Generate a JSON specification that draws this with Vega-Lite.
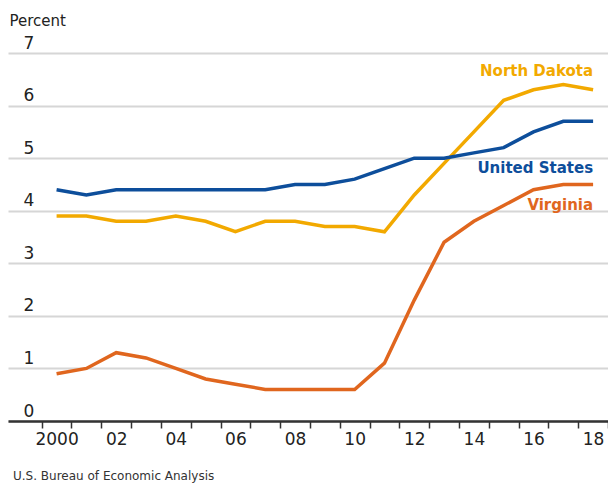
{
  "$schema": "https://vega.github.io/schema/vega-lite/v6.json",
  "width": 600,
  "height": 368,
  "autosize": "none",
  "padding": {"left": 8, "top": 53, "right": 0, "bottom": 62},
  "config": {"view": {"stroke": null}, "font": "DejaVu Sans"},
  "data": {
    "values": [
      {"series": "North Dakota", "year": 2000, "value": 3.9},
      {"series": "North Dakota", "year": 2001, "value": 3.9},
      {"series": "North Dakota", "year": 2002, "value": 3.8},
      {"series": "North Dakota", "year": 2003, "value": 3.8},
      {"series": "North Dakota", "year": 2004, "value": 3.9},
      {"series": "North Dakota", "year": 2005, "value": 3.8},
      {"series": "North Dakota", "year": 2006, "value": 3.6},
      {"series": "North Dakota", "year": 2007, "value": 3.8},
      {"series": "North Dakota", "year": 2008, "value": 3.8},
      {"series": "North Dakota", "year": 2009, "value": 3.7},
      {"series": "North Dakota", "year": 2010, "value": 3.7},
      {"series": "North Dakota", "year": 2011, "value": 3.6},
      {"series": "North Dakota", "year": 2012, "value": 4.3},
      {"series": "North Dakota", "year": 2013, "value": 4.9},
      {"series": "North Dakota", "year": 2014, "value": 5.5},
      {"series": "North Dakota", "year": 2015, "value": 6.1},
      {"series": "North Dakota", "year": 2016, "value": 6.3},
      {"series": "North Dakota", "year": 2017, "value": 6.4},
      {"series": "North Dakota", "year": 2018, "value": 6.3},
      {"series": "United States", "year": 2000, "value": 4.4},
      {"series": "United States", "year": 2001, "value": 4.3},
      {"series": "United States", "year": 2002, "value": 4.4},
      {"series": "United States", "year": 2003, "value": 4.4},
      {"series": "United States", "year": 2004, "value": 4.4},
      {"series": "United States", "year": 2005, "value": 4.4},
      {"series": "United States", "year": 2006, "value": 4.4},
      {"series": "United States", "year": 2007, "value": 4.4},
      {"series": "United States", "year": 2008, "value": 4.5},
      {"series": "United States", "year": 2009, "value": 4.5},
      {"series": "United States", "year": 2010, "value": 4.6},
      {"series": "United States", "year": 2011, "value": 4.8},
      {"series": "United States", "year": 2012, "value": 5.0},
      {"series": "United States", "year": 2013, "value": 5.0},
      {"series": "United States", "year": 2014, "value": 5.1},
      {"series": "United States", "year": 2015, "value": 5.2},
      {"series": "United States", "year": 2016, "value": 5.5},
      {"series": "United States", "year": 2017, "value": 5.7},
      {"series": "United States", "year": 2018, "value": 5.7},
      {"series": "Virginia", "year": 2000, "value": 0.9},
      {"series": "Virginia", "year": 2001, "value": 1.0},
      {"series": "Virginia", "year": 2002, "value": 1.3},
      {"series": "Virginia", "year": 2003, "value": 1.2},
      {"series": "Virginia", "year": 2004, "value": 1.0},
      {"series": "Virginia", "year": 2005, "value": 0.8},
      {"series": "Virginia", "year": 2006, "value": 0.7},
      {"series": "Virginia", "year": 2007, "value": 0.6},
      {"series": "Virginia", "year": 2008, "value": 0.6},
      {"series": "Virginia", "year": 2009, "value": 0.6},
      {"series": "Virginia", "year": 2010, "value": 0.6},
      {"series": "Virginia", "year": 2011, "value": 1.1},
      {"series": "Virginia", "year": 2012, "value": 2.3},
      {"series": "Virginia", "year": 2013, "value": 3.4},
      {"series": "Virginia", "year": 2014, "value": 3.8},
      {"series": "Virginia", "year": 2015, "value": 4.1},
      {"series": "Virginia", "year": 2016, "value": 4.4},
      {"series": "Virginia", "year": 2017, "value": 4.5},
      {"series": "Virginia", "year": 2018, "value": 4.5}
    ]
  },
  "encoding": {
    "x": {
      "field": "year",
      "type": "quantitative",
      "scale": {"domain": [1998.37, 2018.5], "nice": false, "zero": false},
      "axis": {
        "values": [1999.5, 2000.5, 2001.5, 2002.5, 2003.5, 2004.5, 2005.5, 2006.5, 2007.5, 2008.5, 2009.5, 2010.5, 2011.5, 2012.5, 2013.5, 2014.5, 2015.5, 2016.5, 2017.5, 2018.5],
        "grid": false,
        "zindex": 1,
        "domainColor": "#333333",
        "domainWidth": 2.5,
        "tickColor": "#333333",
        "tickWidth": 1.5,
        "tickSize": 7,
        "labelExpr": "(datum.value - 0.5) % 2 == 0 ? ((datum.value - 0.5) == 2000 ? '2000' : substring(toString(datum.value - 0.5), 2)) : ''",
        "labelOffset": -14.9,
        "labelFlush": false,
        "labelOverlap": false,
        "labelFontSize": 17,
        "labelColor": "#222222",
        "labelPadding": 3,
        "title": "U.S. Bureau of Economic Analysis",
        "titleAlign": "left",
        "titleAnchor": "start",
        "titleX": 4.5,
        "titleY": 58,
        "titleBaseline": "alphabetic",
        "titleFontSize": 12,
        "titleFontWeight": "normal",
        "titleColor": "#333333"
      }
    },
    "y": {
      "field": "value",
      "type": "quantitative",
      "scale": {"domain": [0, 7], "nice": false},
      "axis": {
        "values": [0, 1, 2, 3, 4, 5, 6, 7],
        "domain": false,
        "ticks": false,
        "tickSize": 0,
        "gridColor": "#d6d6d6",
        "gridWidth": 2,
        "labelAlign": "left",
        "labelBaseline": "alphabetic",
        "labelPadding": -15,
        "labelOffset": -5,
        "labelFontSize": 17,
        "labelColor": "#222222",
        "title": "Percent",
        "titleAngle": 0,
        "titleAlign": "left",
        "titleBaseline": "alphabetic",
        "titleX": 1,
        "titleY": -28,
        "titleFontSize": 15,
        "titleFontWeight": "normal",
        "titleColor": "#222222"
      }
    }
  },
  "layer": [
    {
      "mark": {"type": "line", "strokeWidth": 3.5},
      "encoding": {
        "color": {
          "field": "series",
          "type": "nominal",
          "scale": {"domain": ["North Dakota", "United States", "Virginia"], "range": ["#F2A900", "#0D4E9B", "#E0661E"]},
          "legend": null
        }
      }
    },
    {
      "transform": [{"filter": "datum.year == 2018 && datum.series == 'North Dakota'"}],
      "mark": {"type": "text", "align": "right", "baseline": "alphabetic", "dy": -13.5, "fontSize": 15, "fontWeight": "bold", "color": "#F2A900"},
      "encoding": {"text": {"field": "series"}}
    },
    {
      "transform": [{"filter": "datum.year == 2018 && datum.series == 'United States'"}],
      "mark": {"type": "text", "align": "right", "baseline": "alphabetic", "dy": 51.5, "fontSize": 15, "fontWeight": "bold", "color": "#0D4E9B"},
      "encoding": {"text": {"field": "series"}}
    },
    {
      "transform": [{"filter": "datum.year == 2018 && datum.series == 'Virginia'"}],
      "mark": {"type": "text", "align": "right", "baseline": "alphabetic", "dy": 25.3, "fontSize": 15, "fontWeight": "bold", "color": "#E0661E"},
      "encoding": {"text": {"field": "series"}}
    }
  ]
}
